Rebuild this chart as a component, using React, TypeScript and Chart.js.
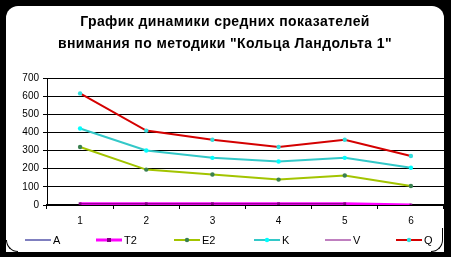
import React, { useEffect, useRef } from "react";
import { Chart, registerables } from "chart.js";

Chart.register(...registerables);

const categories = ["1", "2", "3", "4", "5", "6"];
const seriesA = [0, 0, 0, 0, 0, 0];
const seriesT2 = [7, 7, 7, 7, 7, 0];
const seriesE2 = [320, 195, 168, 140, 163, 105];
const seriesK = [422, 300, 260, 240, 260, 205];
const seriesV: (number | null)[] = [7, 7, 7, 7, 7, null];
const seriesQ = [615, 410, 360, 320, 360, 270];
const seriesNames = ["A", "T2", "E2", "K", "V", "Q"];
const titleLines = [
  "График динамики средних показателей",
  "внимания по методики \"Кольца Ландольта 1\"",
];
const yMin = 0;
const yMax = 700;
const yStep = 100;

const FONT = "'Liberation Sans', Arial, sans-serif";
const legendX = [25, 96, 174, 254, 325, 396];

const titlePlugin = {
  id: "customTitle",
  afterDraw(chart: any) {
    const ctx = chart.ctx;
    ctx.save();
    ctx.fillStyle = "#000";
    ctx.font = `bold 14px ${FONT}`;
    try {
      (ctx as any).letterSpacing = "0.4px";
    } catch (e) {}
    ctx.textAlign = "center";
    ctx.textBaseline = "middle";
    ctx.fillText(titleLines[0], 225, 22);
    ctx.fillText(titleLines[1], 225, 44);
    ctx.restore();
  },
};

const legendPlugin = {
  id: "customLegend",
  afterDraw(chart: any) {
    const ctx = chart.ctx;
    const y = 240;
    ctx.save();
    chart.data.datasets.forEach((ds: any, i: number) => {
      const x0 = legendX[i];
      ctx.strokeStyle = ds.borderColor;
      ctx.lineWidth = ds.borderWidth;
      ctx.beginPath();
      ctx.moveTo(x0, y);
      ctx.lineTo(x0 + 26, y);
      ctx.stroke();
      if (ds.pointRadius > 0) {
        const cx = x0 + 13;
        const r = ds.pointRadius;
        ctx.fillStyle = ds.pointBackgroundColor;
        if (ds.pointStyle === "rect") {
          ctx.fillRect(cx - r, y - r, r * 2, r * 2);
        } else {
          ctx.beginPath();
          ctx.arc(cx, y, r, 0, Math.PI * 2);
          ctx.fill();
        }
      }
      ctx.fillStyle = "#000";
      ctx.font = `11px ${FONT}`;
      ctx.textAlign = "left";
      ctx.textBaseline = "middle";
      ctx.fillText(ds.label, x0 + 28, y + 0.5);
    });
    ctx.restore();
  },
};

export default function App() {
  const ref = useRef<HTMLCanvasElement | null>(null);

  useEffect(() => {
    if (!ref.current) return;
    const chart = new Chart(ref.current, {
      type: "line",
      data: {
        labels: categories,
        datasets: [
          {
            label: seriesNames[0],
            data: seriesA,
            borderColor: "#000080",
            backgroundColor: "#000080",
            borderWidth: 1,
            pointRadius: 0,
            order: 5,
          },
          {
            label: seriesNames[1],
            data: seriesT2,
            borderColor: "#ff00ff",
            backgroundColor: "#800080",
            pointBackgroundColor: "#800080",
            pointBorderColor: "#800080",
            borderWidth: 3,
            pointRadius: 2,
            pointBorderWidth: 0,
            pointStyle: "rect",
            order: 4,
          },
          {
            label: seriesNames[2],
            data: seriesE2,
            borderColor: "#a3c400",
            backgroundColor: "#3a8050",
            pointBackgroundColor: "#3a8050",
            pointBorderColor: "#3a8050",
            borderWidth: 2,
            pointRadius: 2.2,
            pointBorderWidth: 0,
            order: 3,
          },
          {
            label: seriesNames[3],
            data: seriesK,
            borderColor: "#33c8c8",
            backgroundColor: "#00ffff",
            pointBackgroundColor: "#00ffff",
            pointBorderColor: "#00ffff",
            borderWidth: 2,
            pointRadius: 2.2,
            pointBorderWidth: 0,
            order: 2,
          },
          {
            label: seriesNames[4],
            data: seriesV,
            borderColor: "#800080",
            backgroundColor: "#800080",
            borderWidth: 1,
            pointRadius: 0,
            spanGaps: false,
            order: 1,
          },
          {
            label: seriesNames[5],
            data: seriesQ,
            borderColor: "#d40000",
            backgroundColor: "#00ffff",
            pointBackgroundColor: "#33dddd",
            pointBorderColor: "#33dddd",
            borderWidth: 2,
            pointRadius: 2.2,
            pointBorderWidth: 0,
            order: 0,
          },
        ],
      },
      options: {
        animation: false,
        responsive: false,
        maintainAspectRatio: false,
        layout: { padding: { top: 78, right: 7, bottom: 12, left: 0 } },
        plugins: {
          legend: { display: false },
          title: { display: false },
          tooltip: { enabled: false },
        },
        elements: { line: { tension: 0 } },
        scales: {
          x: {
            type: "category",
            offset: true,
            grid: {
              display: true,
              drawOnChartArea: false,
              drawTicks: true,
              tickLength: 4,
              color: "#000",
              offset: true,
            },
            border: { display: true, color: "#000", width: 2 },
            ticks: {
              color: "#000",
              font: { family: FONT, size: 10 },
              padding: 6,
              maxRotation: 0,
              autoSkip: false,
            },
            afterFit: (s: any) => {
              s.height = 40;
            },
          },
          y: {
            min: yMin,
            max: yMax,
            grid: { color: "#000", lineWidth: 1, tickLength: 4 },
            border: { display: true, color: "#000", width: 1 },
            ticks: {
              stepSize: yStep,
              color: "#000",
              font: { family: FONT, size: 10 },
              padding: 4,
            },
            afterFit: (s: any) => {
              s.width = 47;
            },
          },
        },
      },
      plugins: [titlePlugin, legendPlugin],
    });
    return () => chart.destroy();
  }, []);

  const arcBase: React.CSSProperties = {
    position: "absolute",
    width: 12,
    height: 12,
    boxSizing: "border-box",
  };

  return (
    <div
      style={{
        position: "fixed",
        left: 0,
        top: 0,
        width: 451,
        height: 257,
        background: "#000",
        overflow: "hidden",
      }}
    >
      <div
        style={{
          position: "absolute",
          left: 6,
          top: 6,
          width: 438,
          height: 246,
          background: "#fff",
          borderTopLeftRadius: 12,
          borderTopRightRadius: 12,
        }}
      />
      <div
        style={{
          ...arcBase,
          left: 6,
          top: 240,
          borderLeft: "1px solid #000",
          borderBottom: "1px solid #000",
          borderBottomLeftRadius: 12,
        }}
      />
      <div
        style={{
          ...arcBase,
          left: 431,
          top: 228,
          height: 24,
          borderRight: "1px solid #000",
          borderBottom: "1px solid #000",
          borderBottomRightRadius: 12,
        }}
      />
      <canvas
        ref={ref}
        width={451}
        height={257}
        style={{ position: "absolute", left: 0, top: 0, width: 451, height: 257 }}
      />
    </div>
  );
}
